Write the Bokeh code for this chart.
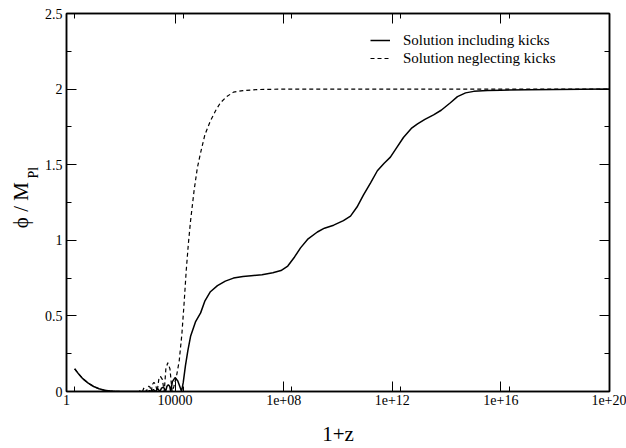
import math
from bokeh.plotting import figure
from bokeh.models import (Range1d, FixedTicker, LinearAxis, LogAxis,
                          CustomJSTickFormatter, Legend, LegendItem)
from bokeh.embed import file_html
from bokeh.resources import INLINE

# ---- data: log10(1+z) and phi/M_Pl ----
kicks_logx = [0.30, 0.45, 0.60, 0.80, 1.00, 1.20, 1.40, 1.60, 1.80, 2.00, 2.60,
              3.00, 3.06, 3.12, 3.20, 3.28, 3.36, 3.44, 3.50, 3.55, 3.60, 3.65,
              3.70, 3.75, 3.80, 3.84, 3.90, 4.00, 4.10, 4.18, 4.24,
              4.30, 4.38, 4.47, 4.57, 4.75, 4.94, 5.10, 5.30, 5.56, 5.85, 6.15,
              6.50, 6.80, 7.20, 7.60, 7.90, 8.15, 8.40, 8.62, 8.90, 9.24, 9.50,
              9.84, 10.20, 10.46, 10.70, 10.94, 11.20, 11.45, 11.70, 11.93, 12.15,
              12.41, 12.70, 12.93, 13.20, 13.52, 13.80, 14.14, 14.40, 14.70, 15.00,
              15.50, 16.00, 17.00, 18.00, 20.00]
kicks_phi = [0.150, 0.115, 0.085, 0.055, 0.033, 0.018, 0.008, 0.003, 0.001, 0.0, 0.0,
             0.0, 0.006, 0.0, 0.012, 0.0, 0.018, 0.0, 0.022, 0.028, 0.022, 0.0,
             0.035, 0.045, 0.035, 0.0, 0.065, 0.092, 0.070, 0.030, 0.0,
             0.06, 0.17, 0.27, 0.365, 0.46, 0.52, 0.60, 0.66, 0.70, 0.73, 0.75,
             0.76, 0.765, 0.772, 0.785, 0.80, 0.83, 0.89, 0.95, 1.01, 1.055, 1.08,
             1.10, 1.13, 1.16, 1.22, 1.30, 1.38, 1.46, 1.51, 1.55, 1.61,
             1.68, 1.74, 1.77, 1.80, 1.83, 1.86, 1.91, 1.95, 1.975, 1.985,
             1.99, 1.993, 1.996, 1.998, 2.0]

nokicks_logx = [0.30, 0.45, 0.60, 0.80, 1.00, 1.20, 1.40, 1.60, 1.80, 2.00, 2.40,
                2.68, 2.74, 2.80, 2.84, 2.87, 2.91, 2.95, 2.99, 3.03, 3.08, 3.12,
                3.17, 3.22, 3.28, 3.34, 3.40, 3.46, 3.53, 3.60, 3.66, 3.73, 3.81, 3.89,
                3.95, 4.05, 4.15, 4.25, 4.33, 4.41, 4.49, 4.57, 4.70, 4.82, 4.94,
                5.10, 5.30, 5.50, 5.67, 5.90, 6.15, 6.50, 7.00, 8.00, 20.00]
nokicks_phi = [0.150, 0.115, 0.085, 0.055, 0.033, 0.018, 0.008, 0.003, 0.001, 0.0, 0.0,
               0.0, 0.010, 0.0, 0.020, 0.025, 0.020, 0.0, 0.028, 0.035, 0.028, 0.0,
               0.048, 0.060, 0.048, 0.0, 0.080, 0.100, 0.080, 0.0, 0.150, 0.190, 0.150, 0.0,
               0.03, 0.10, 0.20, 0.38, 0.58, 0.80, 0.98, 1.13, 1.33, 1.48, 1.58,
               1.70, 1.79, 1.86, 1.91, 1.95, 1.98, 1.99, 1.997, 2.0, 2.0]

x_ticks = [1, 1e4, 1e8, 1e12, 1e16, 1e20]
x_minor_ticks = [2, 2e4, 2e8, 2e12, 2e16]
x_tick_labels = ["1", "10000", "1e+08", "1e+12", "1e+16", "1e+20"]
y_ticks = [0, 0.5, 1.0, 1.5, 2.0, 2.5]
y_minor_ticks = [0.25, 0.75, 1.25, 1.75, 2.25]
y_tick_labels = ["0", "0.5", "1", "1.5", "2", "2.5"]

legend_labels = ["Solution including kicks", "Solution neglecting kicks"]
x_title = "1+z"
y_title_main = "ϕ / M"
y_title_sub = "Pl"

FONT = "Liberation Serif"
NBSP = "\u00a0"

p = figure(width=626, height=448, x_axis_type="log",
           x_range=Range1d(1, 1e20), y_range=Range1d(0, 2.5),
           output_backend="svg", toolbar_location=None,
           min_border_left=66, min_border_right=17,
           min_border_top=13, min_border_bottom=56)
p.xgrid.visible = False
p.ygrid.visible = False
p.outline_line_color = "black"
p.outline_line_width = 1.5
p.background_fill_color = "white"
p.border_fill_color = "white"

r1 = p.line([10 ** v for v in kicks_logx], kicks_phi, line_color="black", line_width=1.5)
r2 = p.line([10 ** v for v in nokicks_logx], nokicks_phi, line_color="black",
            line_width=1.2, line_dash="4 3")

def style_axis(ax, ticks, minor):
    ax.ticker = FixedTicker(ticks=ticks, minor_ticks=minor)
    ax.axis_line_color = "black"
    ax.axis_line_width = 1.5
    ax.major_tick_in = 10
    ax.major_tick_out = 0
    ax.minor_tick_in = 5
    ax.minor_tick_out = 0
    ax.major_tick_line_color = "black"
    ax.minor_tick_line_color = "black"
    ax.major_tick_line_width = 1
    ax.minor_tick_line_width = 1
    ax.major_label_text_font = FONT
    ax.major_label_text_font_size = "14px"
    ax.major_label_text_color = "black"

xa = p.xaxis[0]
style_axis(xa, x_ticks, x_minor_ticks)
xa.formatter = CustomJSTickFormatter(args=dict(labels=x_tick_labels),
                                     code="return labels[Math.round(Math.log10(tick)/4)];")
xa.major_label_standoff = 3
xa.axis_label = x_title
xa.axis_label_text_font = FONT
xa.axis_label_text_font_size = "21px"
xa.axis_label_text_font_style = "normal"
xa.axis_label_text_color = "black"
xa.axis_label_standoff = 14

# left axis: ticks, tick labels and the subscript "Pl" as its title
ya = p.yaxis[0]
style_axis(ya, y_ticks, y_minor_ticks)
ya.formatter = CustomJSTickFormatter(args=dict(labels=y_tick_labels),
                                     code="return labels[Math.round(tick*2)];")
ya.major_label_standoff = 4
ya.axis_label = NBSP * 17 + y_title_sub
ya.axis_label_text_font = FONT
ya.axis_label_text_font_size = "14px"
ya.axis_label_text_font_style = "normal"
ya.axis_label_text_color = "black"
ya.axis_label_standoff = 1

# outer left axis carrying only the main title "phi / M"
ya2 = LinearAxis(ticker=FixedTicker(ticks=[]))
ya2.axis_line_color = None
ya2.major_tick_line_color = None
ya2.minor_tick_line_color = None
ya2.major_label_text_font_size = "0px"
ya2.axis_label = y_title_main + NBSP
ya2.axis_label_text_font = FONT
ya2.axis_label_text_font_size = "21px"
ya2.axis_label_text_font_style = "normal"
ya2.axis_label_text_color = "black"
ya2.axis_label_standoff = -10
p.add_layout(ya2, "left")

top = LogAxis()
style_axis(top, x_ticks, x_minor_ticks)
top.formatter = CustomJSTickFormatter(code="return '';")
top.major_label_text_font_size = "0px"
top.major_label_standoff = 0
p.add_layout(top, "above")

right = LinearAxis()
style_axis(right, y_ticks, y_minor_ticks)
right.formatter = CustomJSTickFormatter(code="return '';")
right.major_label_text_font_size = "0px"
right.major_label_standoff = 0
p.add_layout(right, "right")

legend = Legend(items=[LegendItem(label=legend_labels[0], renderers=[r1]),
                       LegendItem(label=legend_labels[1], renderers=[r2])],
                location=(304, 324))
legend.padding = 0
legend.margin = 0
legend.spacing = 0
legend.glyph_width = 20
legend.glyph_height = 18
legend.label_height = 18
legend.label_standoff = 13
legend.label_text_font = FONT
legend.label_text_font_size = "15px"
legend.label_text_color = "black"
legend.border_line_alpha = 0
legend.background_fill_alpha = 0
p.add_layout(legend)

open("out.html", "w").write(file_html(p, INLINE))
